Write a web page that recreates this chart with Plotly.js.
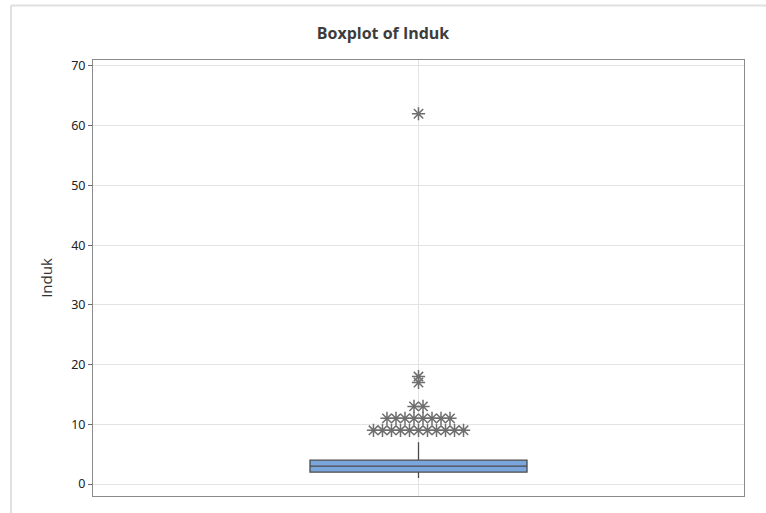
<!DOCTYPE html>
<html>
<head>
<meta charset="utf-8">
<script src="https://cdn.plot.ly/plotly-3.0.1.min.js"></script>
<style>html,body{margin:0;padding:0;background:#fff;}#chart{width:766px;height:513px;}</style>
</head>
<body>
<div id="chart"></div>
<script>
// Box summary for "Induk"
const boxQ1 = 2;
const boxMedian = 3;
const boxQ3 = 4;
const whiskerLow = 1;
const whiskerHigh = 7;
// Outlier values (identical values are stacked side by side, as Minitab does)
const outlierValues = [9,9,9,9,9,9,9,9,9,9,9, 11,11,11,11,11,11,11,11, 13,13, 17, 18, 62];
const yTicks = [0,10,20,30,40,50,60,70];

// spread identical outliers horizontally around the box centre
const step = 0.0415; // data units per symbol
const counts = {};
outlierValues.forEach(v => counts[v] = (counts[v] || 0) + 1);
const seen = {};
const ox = [], oy = [];
outlierValues.forEach(v => {
  const n = counts[v];
  const i = seen[v] = (seen[v] === undefined ? 0 : seen[v] + 1);
  ox.push((i - (n - 1) / 2) * step);
  oy.push(v);
});

const traces = [
  {
    type: 'box',
    x: [0],
    q1: [boxQ1], median: [boxMedian], q3: [boxQ3],
    lowerfence: [whiskerLow], upperfence: [whiskerHigh],
    width: 1,
    whiskerwidth: 0,
    boxpoints: false,
    fillcolor: '#7ba6dc',
    line: {color: '#4a4a4a', width: 1.3},
    hoverinfo: 'skip',
    showlegend: false
  },
  {
    type: 'scatter', mode: 'markers',
    x: ox, y: oy,
    marker: {symbol: 'asterisk-open', size: 11, color: '#6e6e6e', line: {color: '#6e6e6e', width: 1.5}},
    showlegend: false, hoverinfo: 'y'
  }
];

const layout = {
  width: 766, height: 513,
  paper_bgcolor: '#ffffff', plot_bgcolor: '#ffffff',
  margin: {l: 93, r: 22, t: 60, b: 17},
  font: {family: '"Open Sans", "Noto Sans", sans-serif', color: '#333'},
  title: {text: '<b>Boxplot of Induk</b>', x: 0.5, xanchor: 'center', y: 0.935, yanchor: 'middle', yref: 'container',
          font: {size: 16, color: '#3c3c3c', family: '"Open Sans", sans-serif'}},
  xaxis: {
    range: [-1.5, 1.5], tickvals: [0], showticklabels: false, ticks: '',
    showgrid: true, gridcolor: '#e3e3e3', gridwidth: 1, zeroline: false,
    showline: true, mirror: true, linecolor: '#8a8a8a', linewidth: 1
  },
  yaxis: {
    range: [-2, 71], tickvals: yTicks, ticks: 'outside', ticklen: 4, tickcolor: '#666',
    tickfont: {size: 12.5, color: '#222', family: '"Noto Sans", "Open Sans", sans-serif'},
    showgrid: true, gridcolor: '#e3e3e3', gridwidth: 1, zeroline: false,
    showline: true, mirror: true, linecolor: '#8a8a8a', linewidth: 1,
    title: {text: 'Induk', font: {size: 15, color: '#333'}, standoff: 14}
  },
  shapes: [
    {type: 'line', xref: 'paper', yref: 'paper', x0: -0.126, x1: 1.04, y0: 1.125, y1: 1.125, line: {color: '#e0e0e0', width: 2}},
    {type: 'line', xref: 'paper', yref: 'paper', x0: -0.126, x1: -0.126, y0: 1.125, y1: -0.05, line: {color: '#e0e0e0', width: 2}}
  ]
};

Plotly.newPlot('chart', traces, layout, {displayModeBar: false, staticPlot: true});
</script>
</body>
</html>
